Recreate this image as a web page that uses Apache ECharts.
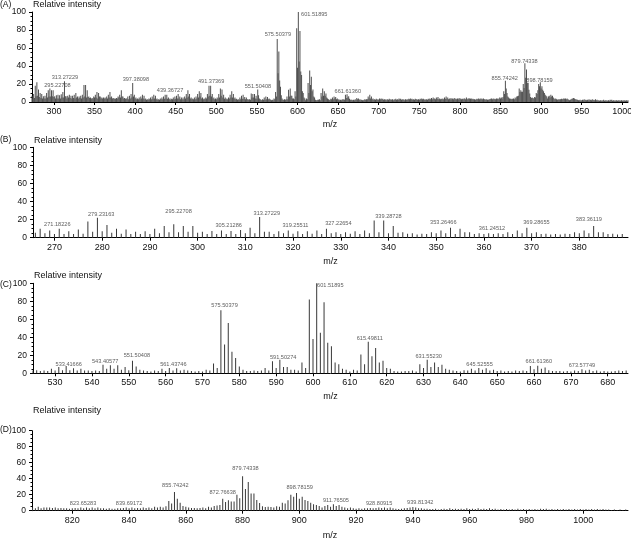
<!DOCTYPE html>
<html>
<head>
<meta charset="utf-8">
<script src="https://cdn.jsdelivr.net/npm/echarts@6/dist/echarts.min.js"></script>
<style>
html, body { margin: 0; padding: 0; background: #fff; }
#chart { width: 631px; height: 539px; }
</style>
</head>
<body>
<div id="chart"></div>
<script>
// stick intensities, one per nominal m/z
const bStart = 266
const bIntensity = [
  5.5, 10, 5, 8, 4, 10, 4, 7, 4, 9,
  4.5, 18, 6.5, 22, 7, 14, 5.5, 10, 4.5, 9,
  4, 6.5, 4, 7, 4, 10, 5, 13, 6, 15,
  6, 13, 6.5, 13, 5.5, 6.5, 4, 7.5, 4, 8,
  4, 7.5, 4, 8.5, 5, 11, 5, 23, 6.5, 6.5,
  4, 7, 5, 8, 4.5, 7, 4, 7, 4.5, 8,
  4, 10, 5, 6, 4, 6, 4.5, 7, 4, 8,
  5, 19, 6, 19, 5, 13, 5.5, 6, 4.5, 5,
  3.5, 4.5, 4, 6, 5, 8, 5, 11, 4, 10,
  6, 6, 4, 5, 4, 5, 4, 5, 4, 6,
  4, 8, 5, 11, 5, 6, 4, 4.5, 3.5, 4,
  3.5, 4.5, 4, 6, 5, 8, 5, 13, 6, 6,
  4, 4.5, 3.5, 4
]

const cStart = 524
const cIntensity = [
  3, 3.5, 2.5, 3, 2.5, 5, 3, 7, 3.5, 8,
  3.5, 5.5, 3, 5, 3, 3, 2.5, 3, 2.5, 9.5,
  5, 9, 5, 9, 4, 7, 3.5, 14, 7.5, 4,
  3, 2.5, 2, 3, 2.5, 5, 2.5, 6, 3, 5.5,
  3, 4, 3, 2.5, 2, 2.5, 2, 4, 3, 11,
  6, 70, 32, 56, 24, 17, 7.5, 4, 2.5, 2.5,
  3, 2.5, 3, 6, 3, 13.5, 6, 15, 7, 7,
  4, 4, 3, 12, 6, 82, 38, 100, 45, 79,
  34, 30, 12, 10, 5, 4, 2, 4, 3, 21,
  10, 35, 19, 28, 12, 14, 6, 5, 2.5, 2,
  2, 2.5, 2.5, 3, 2, 10, 6, 15, 7, 12,
  7, 9.5, 5, 4, 3, 2.5, 2, 3.5, 3, 5,
  3, 6, 4, 5.5, 3, 4, 2.5, 3, 2, 2.5,
  2, 3, 2.5, 3, 2.5, 8, 4.5, 8.5, 5, 6.5,
  3.5, 2.5, 2.5, 2.5, 2, 2.5, 2, 3, 2.5, 4.5,
  3, 4, 2.5, 3, 2, 2.5, 2, 2, 2.5, 3,
  2.5, 3
]

const dStart = 806
const dIntensity = [
  4, 3, 5, 3, 4, 4, 4, 3.5, 4, 3,
  3.5, 3, 3, 2.5, 3, 3.5, 3, 4, 3, 4,
  3, 4, 3, 4, 3, 3, 2.5, 3, 2.5, 2.5,
  3, 3, 3.5, 4, 3, 4, 3, 3.5, 3, 4,
  3.5, 4, 3, 5, 4, 5, 4, 5.5, 12, 9,
  23.5, 15, 10, 6, 5, 4, 3.5, 3.5, 3, 3.5,
  4, 3, 5, 4, 6, 6.5, 7, 15, 11, 13,
  11.5, 11.5, 20, 15.5, 43, 27, 36, 21.5, 21.5, 13.5,
  9.5, 5.5, 4.5, 5, 4.5, 4, 5.5, 5, 10, 9,
  13, 20, 17.5, 22, 15, 17.5, 13.5, 12, 10, 8,
  7, 6, 4, 6, 7, 5, 8, 6, 7, 5,
  4, 3, 4, 3, 2.5, 3, 2.5, 3, 3, 3.5,
  3, 3.5, 4, 3.5, 4, 3, 4, 3, 2.5, 2,
  2.5, 3, 3.5, 4, 4.5, 4, 3, 3, 2.5, 2.5,
  2, 2, 2.5, 1.5, 2, 2.5, 2, 3, 2, 2.5,
  2, 2.5, 2, 3, 2, 2.5, 2, 3, 2, 2.5,
  2, 3, 2, 2.5, 1.5, 2, 1.5, 2, 1.5, 2,
  1.5, 2.5, 1.5, 2, 1.5, 2, 1.5, 2, 1.5, 2.5,
  2, 2.5, 1.5, 2, 1.5, 2, 1.5, 2, 1.5, 2,
  1.5, 2, 1.5, 2, 1.5, 2, 1.5, 2, 1.5, 2,
  1.5, 2, 1.5, 1.5, 1, 1.5, 1, 1.5, 1, 1.5
]

// parts of the full scan (A) not covered by the zoomed panels
const gap1Start = 390
const gap1Intensity = [
  4, 6, 3, 7, 4, 9, 5, 21, 6, 8,
  4, 5, 3, 4, 3, 5, 3, 6, 4, 8,
  4, 7, 3, 4, 2.5, 3, 2.5, 4, 3, 5,
  3, 6, 3.5, 8, 4, 7, 3, 4, 2.5, 3,
  2.5, 4, 3, 5, 3, 6, 3.5, 8, 4, 8,
  3.5, 5, 3, 4, 2.5, 3.5, 3, 5, 3, 6,
  3.5, 7, 4, 9, 4, 6, 3, 5, 3, 5,
  3, 6, 4, 9, 5, 13, 6, 9, 4, 5,
  3, 4, 3, 5, 3, 6, 4, 9, 5, 12,
  6, 10, 4, 5, 3, 4, 3, 5, 4, 9,
  6, 18, 7, 18, 6, 9, 4, 5, 3, 4,
  3, 5, 4, 9, 5, 15, 7, 14, 5, 8,
  3.5, 5, 3, 4, 3, 5, 4, 8, 5, 12,
  5, 9, 4, 5
]
const gap2Start = 686
const gap2Intensity = [
  3, 6, 4, 8, 4, 6, 3, 4, 2.5, 3,
  2.5, 3.5, 2.5, 3, 2.5, 4, 3, 4, 3, 3.5,
  2.5, 3, 2.5, 3, 2, 3, 2.5, 3.5, 2.5, 3,
  2.5, 3, 2, 3, 2.5, 3.5, 2.5, 3, 2.5, 4,
  3, 3.5, 2.5, 3, 2.5, 3, 2, 3, 2.5, 3,
  2.5, 3.5, 3, 4, 3, 3.5, 2.5, 3, 2.5, 3.5,
  3, 3, 2.5, 3, 2.5, 3.5, 3, 4, 3, 3.5,
  2.5, 3, 2.5, 3, 2.5, 3.5, 3, 4, 3, 4.5,
  3, 5, 3.5, 4, 3, 5, 3.5, 5.5, 3, 4,
  3, 3.5, 3, 4, 3, 5, 3.5, 6, 3.5, 5,
  3, 4, 3, 4.5, 3, 4, 3, 4.5, 3, 4,
  3, 4, 3, 4.5, 3, 4, 3, 3.5, 3, 4
]

// peak annotations: [text, centre m/z of the text, intensity level of the text]
const aLabels = [
  ['295.22708', 304.3, 18.9], ['313.27229', 313.6, 27.4], ['397.38098', 400.9, 25.5],
  ['439.36727', 443, 13.3], ['491.37369', 493.6, 23.3], ['551.50408', 551.2, 17],
  ['575.50379', 575.8, 75.2], ['601.51895', 620.6, 97], ['661.61360', 661.9, 12.2],
  ['855.74242', 855.2, 26.3], ['879.74338', 879.5, 45.5], ['898.78159', 898, 24.4]
]
const bLabels = [
  ['271.18226', 270.6, 15.2], ['279.23163', 279.8, 26.2], ['295.22708', 296, 29.5],
  ['305.21286', 306.5, 13.2], ['313.27229', 314.5, 27.3], ['319.25511', 320.5, 13.2],
  ['327.22654', 329.5, 16.3], ['339.28728', 340, 24], ['353.26466', 351.5, 17.4],
  ['361.24512', 361.7, 10.7], ['369.28655', 371, 17.4], ['383.36119', 382, 20.7]
]
const cLabels = [
  ['533.41666', 533.7, 10.3], ['543.40577', 543.6, 12.9], ['551.50408', 552.2, 19.6],
  ['561.43746', 562.1, 10], ['575.50379', 576, 75], ['591.50274', 591.9, 18.1],
  ['601.51895', 604.7, 97.8], ['615.49811', 615.4, 38.9], ['631.55230', 631.4, 19.2],
  ['645.52555', 645.2, 10], ['661.61360', 661.3, 13.7], ['673.57749', 673, 8.4]
]
const dLabels = [
  ['823.65283', 823.8, 9.6], ['839.69172', 840, 9.6], ['855.74242', 856.3, 32],
  ['872.76638', 873, 22.5], ['879.74338', 881, 53], ['898.78159', 900.1, 28.8],
  ['911.76505', 912.9, 13.4], ['928.80915', 928.1, 9.6], ['939.81342', 942.6, 10.9]
]

// x tick labels
const aTicks = [300, 350, 400, 450, 500, 550, 600, 650, 700, 750, 800, 850, 900, 950, 1000]
const bTicks = [270, 280, 290, 300, 310, 320, 330, 340, 350, 360, 370, 380]
const cTicks = [530, 540, 550, 560, 570, 580, 590, 600, 610, 620, 630, 640, 650, 660, 670, 680]
const dTicks = [820, 840, 860, 880, 900, 920, 940, 960, 980, 1000]

const FONT = 'Liberation Sans, Arial, sans-serif'

function sticks(start, vals) {
  return vals.map((v, i) => [start + i, v])
}

const aMin = 273, aMax = 1007
const aData = [
  ...sticks(bStart, bIntensity),
  ...sticks(gap1Start, gap1Intensity),
  ...sticks(cStart, cIntensity),
  ...sticks(gap2Start, gap2Intensity),
  ...sticks(dStart, dIntensity)
].filter(p => p[0] >= aMin && p[0] <= aMax)

const panels = [
  { tag: '(A)', top: 12, height: 90, left: 32, min: aMin, max: aMax, ticks: aTicks,
    data: aData, labels: aLabels, color: '#4f4f4f', nameGap: 18.5 },
  { tag: '(B)', top: 147.3, height: 90.4, left: 33, min: 265.5, max: 390.2, ticks: bTicks,
    data: sticks(bStart, bIntensity), labels: bLabels, color: '#383838', nameGap: 19 },
  { tag: '(C)', top: 283.3, height: 90, left: 33, min: 524, max: 685.5, ticks: cTicks,
    data: sticks(cStart, cIntensity), labels: cLabels, color: '#383838', nameGap: 19 },
  { tag: '(D)', top: 430.7, height: 80, left: 32, min: 805.8, max: 1015.8, ticks: dTicks,
    data: sticks(dStart, dIntensity), labels: dLabels, color: '#383838', nameGap: 20.5 }
]

// where the panel tag and the y title sit (y centre, px)
const tagY = [5, 140, 285, 430]
const titleY = [5, 141, 276, 411]

const chart = echarts.init(document.getElementById('chart'), null, { renderer: 'canvas' })

const option = {
  backgroundColor: '#fff',
  animation: false,
  textStyle: { fontFamily: FONT },
  grid: panels.map(p => ({
    left: p.left, right: 3, top: p.top, height: p.height,
    containLabel: false, outerBoundsMode: 'none'
  })),
  xAxis: panels.map((p, i) => ({
    type: 'value',
    gridIndex: i,
    min: p.min,
    max: p.max,
    axisLine: { onZero: false, lineStyle: { color: '#000', width: 1 } },
    axisTick: { customValues: p.ticks, length: 3, lineStyle: { color: '#000' } },
    axisLabel: {
      customValues: p.ticks,
      formatter: v => String(v),
      fontSize: 9, color: '#111', margin: 5, fontFamily: FONT
    },
    splitLine: { show: false },
    name: 'm/z',
    nameLocation: 'middle',
    nameGap: p.nameGap,
    nameTextStyle: { fontSize: 9, color: '#111', fontFamily: FONT }
  })),
  yAxis: panels.map((p, i) => ({
    type: 'value',
    gridIndex: i,
    min: 0,
    max: 100,
    interval: 20,
    axisLine: { show: true, lineStyle: { color: '#000', width: 1 } },
    axisTick: { show: true, length: 3, lineStyle: { color: '#000' } },
    minorTick: { show: true, splitNumber: 4, length: 1.5, lineStyle: { color: '#000' } },
    axisLabel: { fontSize: 8.5, color: '#111', margin: 6, fontFamily: FONT },
    splitLine: { show: false }
  })),
  series: [
    ...panels.map((p, i) => ({
      type: 'bar',
      xAxisIndex: i,
      yAxisIndex: i,
      data: p.data,
      barWidth: 1,
      itemStyle: { color: p.color },
      silent: true
    })),
    ...panels.map((p, i) => ({
      type: 'scatter',
      xAxisIndex: i,
      yAxisIndex: i,
      symbolSize: 0.1,
      itemStyle: { color: 'rgba(0,0,0,0)' },
      data: p.labels.map(l => [l[1], l[2], l[0]]),
      label: {
        show: true,
        position: 'inside',
        formatter: q => q.data[2],
        fontSize: 5.6,
        color: '#333',
        fontFamily: FONT
      },
      silent: true,
      z: 5
    }))
  ],
  graphic: [
    ...panels.map((p, i) => ({
      type: 'text', x: 0, y: tagY[i],
      style: { text: p.tag, font: '8.5px ' + FONT, fill: '#111', verticalAlign: 'middle' }
    })),
    ...panels.map((p, i) => ({
      type: 'text', x: p.left + 1, y: titleY[i],
      style: { text: 'Relative intensity', font: '9px ' + FONT, fill: '#111', verticalAlign: 'middle' }
    }))
  ]
}

chart.setOption(option)
</script>
</body>
</html>
